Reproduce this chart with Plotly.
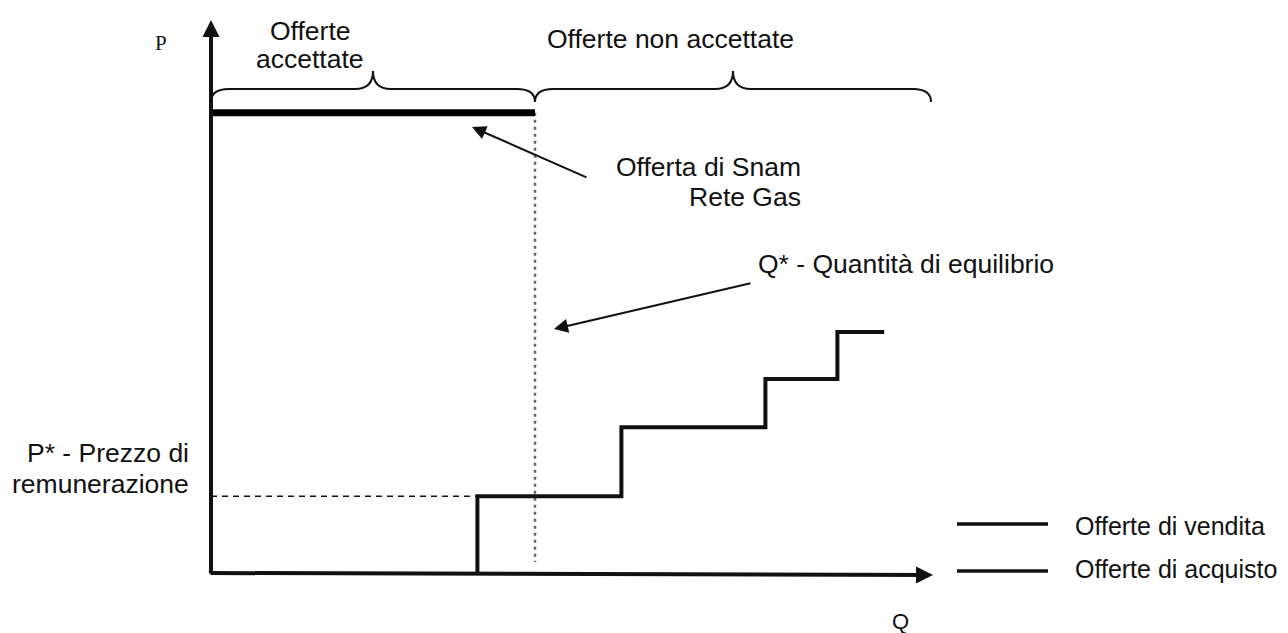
import plotly.graph_objects as go

# ---------------- data (arbitrary schematic units: Q 0..100, P 0..100) ----------------
sell_q = [37, 57, 77, 87, 93.5]          # step breakpoints of the sell curve
sell_p = [0, 14, 26.6, 35.4, 44]          # price levels (vh steps)
buy_q = [0, 45]                            # Snam Rete Gas offer
buy_p = [84, 84]
q_star = 45
p_star = 14
p_snam = 84
brace_accepted = [0, 45]
brace_rejected = [45, 100]
legend_names = ["Offerte di vendita", "Offerte di acquisto"]

# ---------------- layout helpers (page pixel -> data) ----------------
def X(px):
    return (px - 211) / 7.2

def Y(py):
    return (573 - py) / 5.48

OFF = 8  # page body margin in the browser
FONT = "Liberation Sans, Arial, sans-serif"
FS = 26.5
INK = "#111111"

fig = go.Figure()

# P* dashed guide
fig.add_trace(go.Scatter(x=[0, sell_q[0]], y=[p_star, p_star], mode="lines",
                         line=dict(color=INK, width=1.5, dash="6px,5px"),
                         showlegend=False, hoverinfo="skip"))
# Q* dotted guide
fig.add_trace(go.Scatter(x=[q_star, q_star], y=[p_snam, Y(562)], mode="lines",
                         line=dict(color="#666666", width=2.5, dash="3px,4px"),
                         showlegend=False, hoverinfo="skip"))
# sell curve
fig.add_trace(go.Scatter(x=sell_q, y=sell_p, mode="lines", line_shape="vh",
                         line=dict(color=INK, width=4), name=legend_names[0],
                         showlegend=False))
# buy (Snam) offer
fig.add_trace(go.Scatter(x=buy_q, y=buy_p, mode="lines",
                         line=dict(color="black", width=7), name=legend_names[1],
                         showlegend=False))

# ---------------- braces ----------------
def brace(a, b, yend, ymid, ytop, d=2.5):
    m = (a + b) / 2
    return (f"M {a},{yend} Q {a},{ymid} {a+d},{ymid} L {m-d},{ymid} "
            f"Q {m},{ymid} {m},{ytop} Q {m},{ymid} {m+d},{ymid} "
            f"L {b-d},{ymid} Q {b},{ymid} {b},{yend}")

shapes = []
for a, b in (brace_accepted, brace_rejected):
    shapes.append(dict(type="path", xref="x", yref="y",
                       path=brace(a, b, Y(102), Y(89), Y(71)),
                       line=dict(color=INK, width=2)))

# legend samples (manual)
shapes.append(dict(type="line", xref="x", yref="y", x0=X(957), x1=X(1048),
                   y0=Y(524), y1=Y(524), line=dict(color=INK, width=3.5)))
shapes.append(dict(type="line", xref="x", yref="y", x0=X(957), x1=X(1048),
                   y0=Y(571), y1=Y(571), line=dict(color=INK, width=3.5)))

annotations = []

def txt(s, px, py, xanchor="center", size=FS, family=FONT):
    annotations.append(dict(text=s, x=X(px), y=Y(py), xref="x", yref="y",
                            showarrow=False, xanchor=xanchor, yanchor="middle",
                            font=dict(family=family, size=size, color=INK)))

def arrow(hx, hy, tx, ty, width=2, size=1.4, head=2):
    annotations.append(dict(text="", x=X(hx), y=Y(hy), ax=X(tx), ay=Y(ty),
                            xref="x", yref="y", axref="x", ayref="y",
                            showarrow=True, arrowhead=head, arrowwidth=width,
                            arrowsize=size, arrowcolor=INK))

# axes as arrows
arrow(211, 20, 211, 575, width=4, size=0.85)
arrow(933, 575, 209, 573, width=4, size=0.85)
txt("P", 161, 43, size=21, family="Liberation Serif, Times New Roman, serif")
txt("Q", 900, 621, size=22)

# texts
txt("Offerte", 310, 31)
txt("accettate", 310, 59)
txt("Offerte non accettate", 670, 39)
txt("Offerta di Snam", 803, 167, xanchor="right")
txt("Rete Gas", 803, 197, xanchor="right")
txt("Q* - Quantità di equilibrio", 756, 264, xanchor="left")
txt("P* - Prezzo di", 191, 453, xanchor="right")
txt("remunerazione", 191, 484, xanchor="right")
txt(legend_names[0], 1073, 526, xanchor="left", size=25)
txt(legend_names[1], 1073, 569, xanchor="left", size=25)

# pointer arrows
arrow(472, 127, 588, 178)
arrow(554, 329, 752, 283)

fig.update_layout(
    width=1288 - OFF, height=633 - OFF,
    margin=dict(l=0, r=0, t=0, b=0),
    paper_bgcolor="white", plot_bgcolor="white",
    xaxis=dict(range=[X(OFF), X(1288)], visible=False, fixedrange=True),
    yaxis=dict(range=[Y(633), Y(OFF)], visible=False, fixedrange=True),
    shapes=shapes, annotations=annotations, showlegend=False,
)

fig.write_html("out.html")
